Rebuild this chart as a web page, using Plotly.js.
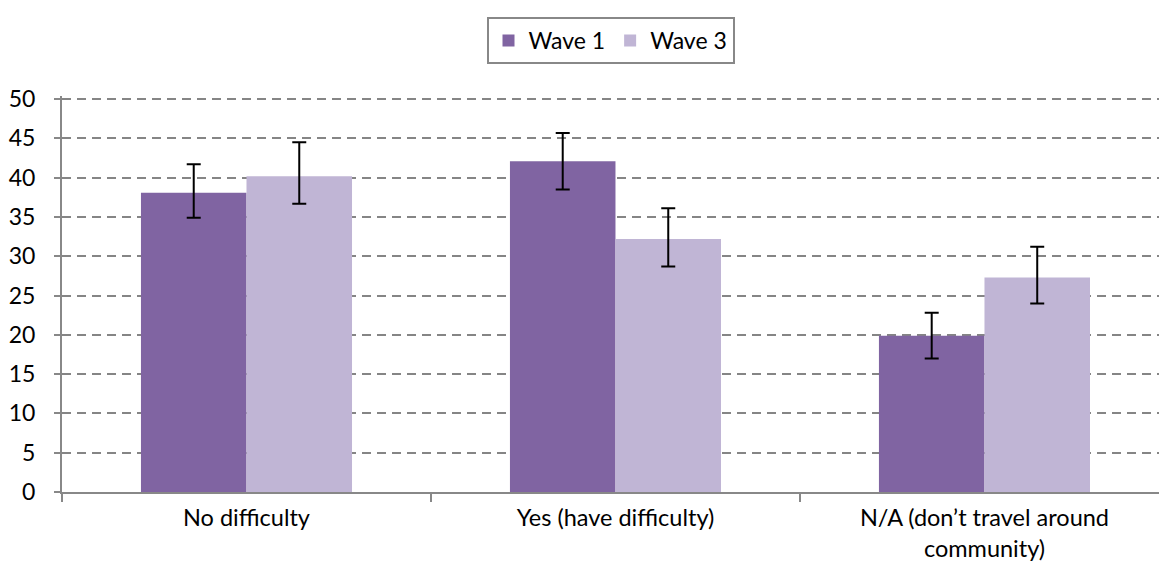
<!DOCTYPE html>
<html><head><meta charset="utf-8">
<script src="https://cdn.plot.ly/plotly-3.0.1.min.js"></script>
<style>html,body{margin:0;padding:0;overflow:hidden;background:#fff}</style>
</head><body><div id="chart" style="width:1159px;height:563px"></div>
<script>
const categories = ["No difficulty", "Yes (have difficulty)", "N/A (don\u2019t travel around<br>community)"];
const wave1 = [38.1, 42.1, 19.9];
const wave1Plus = [3.6, 3.6, 2.9];
const wave1Minus = [3.2, 3.6, 2.9];
const wave3 = [40.2, 32.2, 27.3];
const wave3Plus = [4.3, 3.9, 3.9];
const wave3Minus = [3.5, 3.5, 3.3];
const yTicks = [0, 5, 10, 15, 20, 25, 30, 35, 40, 45, 50];

const font = "Lato, 'Open Sans', sans-serif";
const traces = [
  {type: "bar", name: "Wave 1", x: categories, y: wave1, marker: {color: "#8064A2"},
   error_y: {type: "data", symmetric: false, array: wave1Plus, arrayminus: wave1Minus, color: "#000", thickness: 2, width: 7}},
  {type: "bar", name: "Wave 3", x: categories, y: wave3, marker: {color: "#C0B5D5"},
   error_y: {type: "data", symmetric: false, array: wave3Plus, arrayminus: wave3Minus, color: "#000", thickness: 2, width: 7}}
];
const layout = {
  width: 1159, height: 563,
  margin: {l: 62, r: 0, t: 96, b: 71},
  paper_bgcolor: "#fff", plot_bgcolor: "#fff",
  font: {family: font, size: 23, color: "#000"},
  barmode: "group", bargap: 0.428, bargroupgap: 0,
  showlegend: true,
  legend: {orientation: "h", x: 0.5, xanchor: "center", y: 1.14, yanchor: "middle",
    bordercolor: "#888", borderwidth: 2, font: {size: 23, family: font, color: "#000"}},
  xaxis: {type: "category", range: [-0.5, 2.473], showgrid: false, showline: true, linecolor: "#888", linewidth: 2,
    ticks: "outside", tickson: "boundaries", ticklen: 8, tickcolor: "#888", tickwidth: 2,
    tickfont: {size: 23.5, family: font, color: "#000"}, ticklabelstandoff: 4, zeroline: false},
  yaxis: {range: [0, 50.4], tickvals: yTicks, ticktext: yTicks.map(String), showgrid: true,
    gridcolor: "#858585", gridwidth: 2, griddash: "9px,6px", showline: true, linecolor: "#888", linewidth: 2,
    ticks: "outside", ticklen: 6, tickcolor: "#888", tickwidth: 2,
    tickfont: {size: 23, family: font, color: "#000"}, ticklabelstandoff: 14, zeroline: false}
};
Plotly.newPlot("chart", traces, layout, {displayModeBar: false, staticPlot: true});
</script></body></html>
